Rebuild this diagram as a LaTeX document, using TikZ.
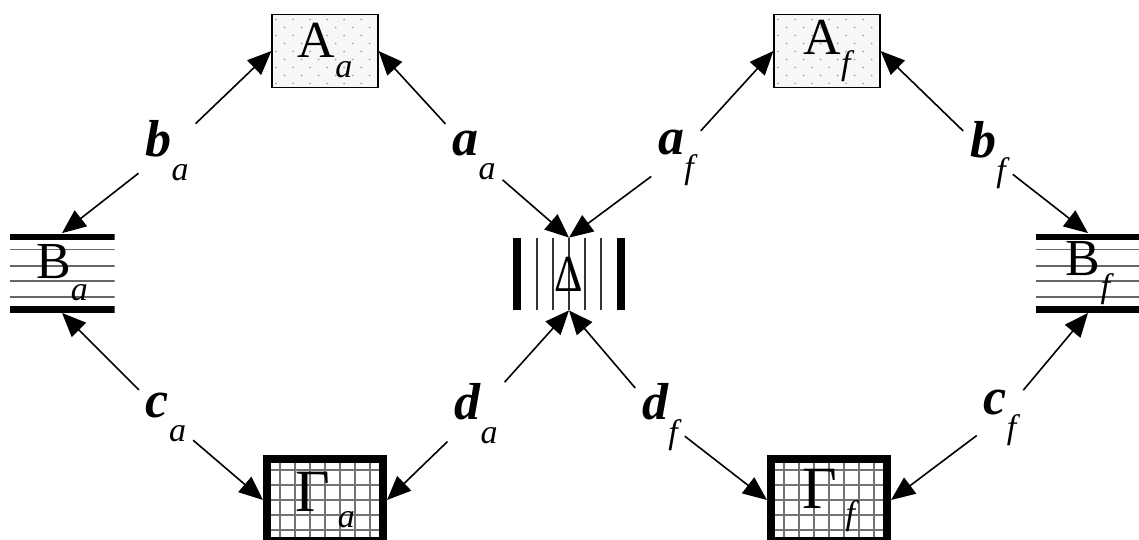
\documentclass[tikz,border=0pt]{standalone}
\usepackage{fontspec}
\setmainfont{Liberation Serif}
\usetikzlibrary{arrows.meta,calc}

\newcommand{\lbl}[2]{{\fontsize{26}{26}\selectfont\bfseries\itshape #1}\raisebox{-12pt}{\fontsize{17}{17}\selectfont\itshape #2}}
\newcommand{\nsub}[2][-10pt]{\raisebox{#1}{\fontsize{17}{17}\selectfont\itshape #2}}

\begin{document}
\begin{tikzpicture}[
    x=0.5pt, y=-0.5pt,
    font=\fontsize{26}{26}\selectfont,
    dotbox/.style={rectangle, draw, line width=0.6pt, fill=black!3, inner sep=0pt,
        minimum width=53pt, minimum height=36.5pt,
        path picture={
            \foreach \r [evaluate=\r as \off using {mod(\r,2)*4.25}] in {0,...,9}
                \foreach \c in {0,...,6}
                    \fill[black!35] ([xshift={\c*8.5pt+\off*1pt+2pt}, yshift={\r*4pt+2pt}]path picture bounding box.south west) circle (0.5pt);
        }},
    hlines/.style={rectangle, fill=white, inner sep=0pt, minimum width=52.5pt, minimum height=39.5pt,
        path picture={
            \fill[black] (path picture bounding box.north west) rectangle ([yshift=-3.3pt]path picture bounding box.north east);
            \fill[black] ([yshift=3.3pt]path picture bounding box.south west) rectangle (path picture bounding box.south east);
            \foreach \f in {0.2,0.41,0.6,0.8}
                \draw[black!60, line width=0.8pt] ($(path picture bounding box.north west)!\f!(path picture bounding box.south west)$) -- ($(path picture bounding box.north east)!\f!(path picture bounding box.south east)$);
        }},
    vlines/.style={rectangle, fill=white, inner sep=0pt, minimum width=56pt, minimum height=36pt,
        path picture={
            \fill[black] (path picture bounding box.south west) rectangle ([xshift=4pt]path picture bounding box.north west);
            \fill[black] ([xshift=-4pt]path picture bounding box.south east) rectangle (path picture bounding box.north east);
            \foreach \k in {1,...,5}
                \draw[black!80, line width=0.7pt] ([xshift={4pt+\k*8pt}]path picture bounding box.south west) -- ([xshift={4pt+\k*8pt}]path picture bounding box.north west);
        }},
    gridbox/.style={rectangle, draw, line width=4pt, fill=white, inner sep=0pt,
        minimum width=58pt, minimum height=41pt,
        path picture={
            \foreach \k in {1,...,7}
                \draw[black!55, line width=0.9pt] ([xshift={\k*7.5pt-1pt}]path picture bounding box.south west) -- ([xshift={\k*7.5pt-1pt}]path picture bounding box.north west);
            \foreach \k in {1,...,5}
                \draw[black!55, line width=0.9pt] ([yshift={\k*7.5pt-2pt}]path picture bounding box.south west) -- ([yshift={\k*7.5pt-2pt}]path picture bounding box.south east);
        }},
    arr/.style={-{Triangle[length=12pt,width=10pt]}, line width=0.8pt}
]

\useasboundingbox (0,0) rectangle (1139,540);

\node[dotbox] (Aa) at (325,51) {A\nsub{a}};
\node[dotbox] (Af) at (827,51) {A\nsub{f}};
\node[hlines] (Ba) at (62,273) {B\nsub[-11pt]{a}};
\node[hlines] (Bf) at (1088,273) {B\nsub[-11pt]{f}};
\node[vlines] (delta) at (569,274) {\scalebox{0.85}[1]{Δ}};
\node[gridbox] (Ga) at (325,500) {\fontsize{30}{30}\selectfont Γ\hspace{4pt}\nsub[-8pt]{a}};
\node[gridbox] (Gf) at (829,500) {\fontsize{30}{30}\selectfont Γ\hspace{4pt}\nsub[-8pt]{f}};

\node (ba) at (167,151) {\lbl{b}{a}};
\node (aa) at (474,155) {\lbl{a}{a}};
\node (af) at (676,158) {\lbl{a}{f}};
\node (bf) at (988,155) {\lbl{b}{f}};
\node (ca) at (166,417) {\lbl{c}{a}};
\node (da) at (476,414) {\lbl{d}{a}};
\node (df) at (660,417) {\lbl{d}{f}};
\node (cf) at (1000,418) {\lbl{c}{f}};

\draw[arr] (ba) -- (Aa.west);
\draw[arr] (ba) -- (Ba.north);
\draw[arr] (aa) -- (Aa.east);
\draw[arr] (aa) -- (delta.north);
\draw[arr] (af) -- (Af.west);
\draw[arr] (af) -- (delta.north);
\draw[arr] (bf) -- (Af.east);
\draw[arr] (bf) -- (Bf.north);
\draw[arr] (ca) -- (Ba.south);
\draw[arr] (ca) -- (Ga.west);
\draw[arr] (da) -- (delta.south);
\draw[arr] (da) -- (Ga.east);
\draw[arr] (df) -- (delta.south);
\draw[arr] (df) -- (Gf.west);
\draw[arr] (cf) -- (Bf.south);
\draw[arr] (cf) -- (Gf.east);

\end{tikzpicture}
\end{document}
